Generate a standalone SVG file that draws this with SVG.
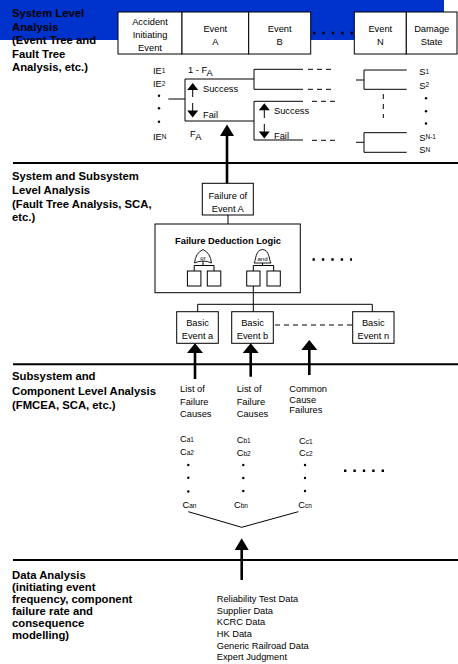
<svg xmlns="http://www.w3.org/2000/svg" width="458" height="664" viewBox="0 0 458 664">
  <style>
    text { font-family: "Liberation Sans", Arial, sans-serif; fill: #000; }
    .title { font-size: 11.3px; font-weight: bold; }
    .lbl { font-size: 9.3px; }
    .mid { text-anchor: middle; }
    .sm { font-size: 6.5px; }
    .box { fill: #fff; stroke: #000; stroke-width: 1; }
    .ln { fill: none; stroke: #000; stroke-width: 1; }
    .dash { fill: none; stroke: #000; stroke-width: 1; stroke-dasharray: 5 4; }
    .sep { fill: none; stroke: #000; stroke-width: 2; }
    .stem { fill: none; stroke: #000; stroke-width: 2.6; }
    .dots { fill: none; stroke: #000; stroke-width: 2.4; stroke-dasharray: 2.4 7; }
    .head { fill: #000; }
    .gate { fill: #fff; stroke: #000; stroke-width: 0.9; }
  </style>

  <!-- header band -->
  <rect x="0" y="0" width="444" height="40" fill="#0033cc"/>

  <!-- section titles -->
  <g id="title-system">
    <text class="title" x="12" y="17">System Level</text>
    <text class="title" x="12" y="30.5">Analysis</text>
    <text class="title" x="12" y="44">(Event Tree and</text>
    <text class="title" x="12" y="57.5">Fault Tree</text>
    <text class="title" x="12" y="71">Analysis, etc.)</text>
  </g>
  <g id="title-subsystem">
    <text class="title" x="12" y="180">System and Subsystem</text>
    <text class="title" x="12" y="194">Level Analysis</text>
    <text class="title" x="12" y="208">(Fault Tree Analysis, SCA,</text>
    <text class="title" x="12" y="221">etc.)</text>
  </g>
  <g id="title-component">
    <text class="title" x="12" y="380">Subsystem and</text>
    <text class="title" x="12" y="395">Component Level Analysis</text>
    <text class="title" x="12" y="409">(FMCEA, SCA, etc.)</text>
  </g>
  <g id="title-data">
    <text class="title" x="12" y="579">Data Analysis</text>
    <text class="title" x="12" y="591">(initiating event</text>
    <text class="title" x="12" y="603">frequency, component</text>
    <text class="title" x="12" y="615">failure rate and</text>
    <text class="title" x="12" y="627">consequence</text>
    <text class="title" x="12" y="639">modelling)</text>
  </g>

  <!-- event tree header -->
  <g id="hdr-initiating">
    <rect class="box" x="118" y="12" width="64" height="42"/>
    <text class="lbl mid" x="150" y="25">Accident</text>
    <text class="lbl mid" x="150" y="38">Initiating</text>
    <text class="lbl mid" x="150" y="51">Event</text>
  </g>
  <g id="hdr-event-a">
    <rect class="box" x="182" y="12" width="66.7" height="42"/>
    <text class="lbl mid" x="215.3" y="31.5">Event</text>
    <text class="lbl mid" x="215.3" y="44.5">A</text>
  </g>
  <g id="hdr-event-b">
    <rect class="box" x="248.7" y="12" width="62" height="42"/>
    <text class="lbl mid" x="279.7" y="31.5">Event</text>
    <text class="lbl mid" x="279.7" y="44.5">B</text>
  </g>
  <g id="hdr-event-n">
    <rect class="box" x="354.3" y="12" width="52" height="42"/>
    <text class="lbl mid" x="380.3" y="31.5">Event</text>
    <text class="lbl mid" x="380.3" y="44.5">N</text>
  </g>
  <g id="hdr-damage">
    <rect class="box" x="406.3" y="12" width="50.7" height="42"/>
    <text class="lbl mid" x="431.7" y="31.5">Damage</text>
    <text class="lbl mid" x="431.7" y="44.5">State</text>
  </g>

  <!-- initiating events -->
  <g id="initiating-events">
    <text class="lbl" x="153" y="74">IE<tspan class="sm" dy="-1.5">1</tspan></text>
    <text class="lbl" x="153" y="87">IE<tspan class="sm" dy="-1.5">2</tspan></text>
    <circle cx="159" cy="95.7" r="1.2"/>
    <circle cx="159" cy="108.3" r="1.2"/>
    <circle cx="159" cy="121.7" r="1.2"/>
    <text class="lbl" x="153" y="140">IE<tspan class="sm" dy="-1.5">N</tspan></text>
    <text class="lbl" x="188" y="73">1 - F<tspan dy="2.5">A</tspan></text>
    <text class="lbl" x="190" y="137">F<tspan dy="2.5">A</tspan></text>
  </g>

  <!-- branch of event A -->
  <g id="branch-a">
    <text class="lbl" x="203" y="92">Success</text>
    <text class="lbl" x="203" y="118">Fail</text>
  </g>
  <!-- branches of event B -->
  <g id="branch-b">
    <text class="lbl" x="274" y="113.5">Success</text>
    <text class="lbl" x="274" y="139">Fail</text>
  </g>

  <!-- damage states -->
  <g id="damage-states">
    <text class="lbl" x="419.3" y="75">S<tspan class="sm" dy="-1.5">1</tspan></text>
    <text class="lbl" x="419.3" y="88.5">S<tspan class="sm" dy="-1.5">2</tspan></text>
    <circle cx="426" cy="98.3" r="1.2"/>
    <circle cx="426" cy="111.3" r="1.2"/>
    <circle cx="426" cy="123.5" r="1.2"/>
    <text class="lbl" x="419.3" y="140.5">S<tspan class="sm" dy="-1.5">N-1</tspan></text>
    <text class="lbl" x="419.3" y="153">S<tspan class="sm" dy="-1.5">N</tspan></text>
  </g>

  <!-- fault tree -->
  <g id="failure-of-a">
    <rect class="box" x="202.3" y="183.3" width="51" height="31.7"/>
    <text class="lbl mid" x="227.8" y="198.5">Failure of</text>
    <text class="lbl mid" x="227.8" y="211.5">Event A</text>
  </g>
  <g id="deduction-logic">
    <rect class="box" x="155" y="224" width="145.3" height="68.7"/>
    <text class="mid" x="228" y="243.5" style="font-size:9.3px;font-weight:bold">Failure Deduction Logic</text>
    <!-- OR gate with two inputs -->
    <path class="gate" d="M194.5,263 Q195.5,253 203,249.5 Q210.5,253 211.5,263 Q203,259 194.5,263 Z"/>
    <text class="mid" x="203" y="260" style="font-size:6px">or</text>
    <path class="ln" d="M203,261 V265.5 M194.2,271 V265.5 H214 V271"/>
    <rect class="box" x="187.4" y="271" width="13.5" height="15"/>
    <rect class="box" x="207.3" y="271" width="13.5" height="15"/>
    <!-- AND gate with two inputs -->
    <path class="gate" d="M254,263 C256,261 255,250 262.5,249.5 C270,250 269,261 271,263 Z"/>
    <text class="mid" x="262.5" y="260.5" style="font-size:6px">and</text>
    <path class="ln" d="M262.5,263 V265.5 M253.3,271 V265.5 H273.7 V271"/>
    <rect class="box" x="246.7" y="271" width="13.3" height="15"/>
    <rect class="box" x="267" y="271" width="13.3" height="15"/>
  </g>
  <g id="basic-event-a">
    <rect class="box" x="176.7" y="311.7" width="41.6" height="31.6"/>
    <text class="lbl mid" x="197.5" y="325.5">Basic</text>
    <text class="lbl mid" x="197.5" y="339">Event a</text>
  </g>
  <g id="basic-event-b">
    <rect class="box" x="231.7" y="311.7" width="41.6" height="31.6"/>
    <text class="lbl mid" x="252.5" y="325.5">Basic</text>
    <text class="lbl mid" x="252.5" y="339">Event b</text>
  </g>
  <g id="basic-event-n">
    <rect class="box" x="352.7" y="311.7" width="41.3" height="31.6"/>
    <text class="lbl mid" x="373.3" y="325.5">Basic</text>
    <text class="lbl mid" x="373.3" y="339">Event n</text>
  </g>

  <!-- failure causes -->
  <g id="causes-a">
    <text class="lbl" x="180" y="391.5">List of</text>
    <text class="lbl" x="180" y="404.5">Failure</text>
    <text class="lbl" x="180" y="417">Causes</text>
    <text class="lbl" x="180" y="441.5">C<tspan class="sm">a1</tspan></text>
    <text class="lbl" x="180" y="455">C<tspan class="sm">a2</tspan></text>
    <circle cx="188.3" cy="465" r="1.2"/>
    <circle cx="188.3" cy="477.7" r="1.2"/>
    <circle cx="188.3" cy="491.5" r="1.2"/>
    <text class="lbl" x="182.5" y="508">C<tspan class="sm">an</tspan></text>
  </g>
  <g id="causes-b">
    <text class="lbl" x="236.7" y="391.5">List of</text>
    <text class="lbl" x="236.7" y="404.5">Failure</text>
    <text class="lbl" x="236.7" y="417">Causes</text>
    <text class="lbl" x="236.7" y="443">C<tspan class="sm">b1</tspan></text>
    <text class="lbl" x="236.7" y="455.5">C<tspan class="sm">b2</tspan></text>
    <circle cx="243.3" cy="465" r="1.2"/>
    <circle cx="243.3" cy="478" r="1.2"/>
    <circle cx="243.3" cy="491" r="1.2"/>
    <text class="lbl" x="234" y="508">C<tspan class="sm">bn</tspan></text>
  </g>
  <g id="causes-common">
    <text class="lbl" x="289.3" y="392">Common</text>
    <text class="lbl" x="289.3" y="402.5">Cause</text>
    <text class="lbl" x="289.3" y="413">Failures</text>
    <text class="lbl" x="299" y="443.5">C<tspan class="sm">c1</tspan></text>
    <text class="lbl" x="299" y="456">C<tspan class="sm">c2</tspan></text>
    <circle cx="305" cy="465" r="1.2"/>
    <circle cx="305" cy="478" r="1.2"/>
    <circle cx="305" cy="491" r="1.2"/>
    <text class="lbl" x="298.3" y="508">C<tspan class="sm">cn</tspan></text>
  </g>

  <!-- data sources -->
  <g id="data-sources">
    <text class="lbl" x="216.7" y="602">Reliability Test Data</text>
    <text class="lbl" x="216.7" y="613.7">Supplier Data</text>
    <text class="lbl" x="216.7" y="625.3">KCRC Data</text>
    <text class="lbl" x="216.7" y="637">HK Data</text>
    <text class="lbl" x="216.7" y="648.7">Generic Railroad Data</text>
    <text class="lbl" x="216.7" y="659.7">Expert Judgment</text>
  </g>

  <!-- connectors -->
  <g id="connectors">
    <!-- section separators -->
    <path class="sep" d="M13,163 H458 M13,364.3 H458 M13,560 H458"/>

    <!-- header continuation -->
    <path class="dots" d="M313,33 H354"/>

    <!-- event A split -->
    <path class="ln" d="M168.3,99 H185 M254,79 H185 V121 H254"/>
    <path class="ln" d="M192.7,90 V97 M192.7,103 V111"/>
    <path class="head" d="M192.7,83 L187.2,90 H198.2 Z M192.7,117.5 L187.2,110.5 H198.2 Z"/>

    <!-- event B splits -->
    <path class="ln" d="M303,69.3 H254 V89.3 H303 M303,101.3 H254 V140 H303"/>
    <path class="ln" d="M264.3,110 V118 M264.3,124 V132"/>
    <path class="head" d="M264.3,103.3 L258.8,110.3 H269.8 Z M264.3,138.5 L258.8,131.5 H269.8 Z"/>
    <path class="dash" d="M308,69.3 H333 M308,89.3 H333 M312,101.3 H339 M312,140.3 H339"/>

    <!-- event N splits -->
    <path class="ln" d="M356,80 H364 M406.7,70 H364 V89.3 H406.7 M356,142.3 H364 M406.7,132.7 H364 V152.3 H406.7"/>
    <path class="ln" style="stroke-dasharray:5 5" d="M383.3,94 V118"/>

    <!-- failure of event A feeds the event tree -->
    <path class="stem" d="M227,135 V183.3"/>
    <path class="head" d="M227,124.5 L220,136 H234 Z"/>
    <path class="ln" d="M228,215 V224"/>

    <!-- further logic -->
    <path class="dots" d="M312.5,259.5 H352"/>

    <!-- gate inputs to basic events -->
    <path class="ln" d="M253.3,286 V311.7 M197.7,311.7 V304.3 H372.3 V311.7"/>
    <path class="dash" d="M275,325 H352"/>

    <!-- causes feed the basic events -->
    <path class="stem" d="M195,351 V379 M250.7,351 V376.7 M309.3,348 V375"/>
    <path class="head" d="M195,343.3 L187,353 H203 Z M250.7,343.3 L242.7,353 H258.7 Z M309.3,340 L301.3,350 H317.3 Z"/>
    <path class="dots" d="M344,470.7 H385"/>

    <!-- data feeds the causes -->
    <path class="ln" d="M188.3,511.7 L241.7,527.3 L298.3,511.7"/>
    <path class="stem" d="M241.7,549 V580"/>
    <path class="head" d="M241.7,538.3 L234.7,550 H248.7 Z"/>
  </g>
</svg>
